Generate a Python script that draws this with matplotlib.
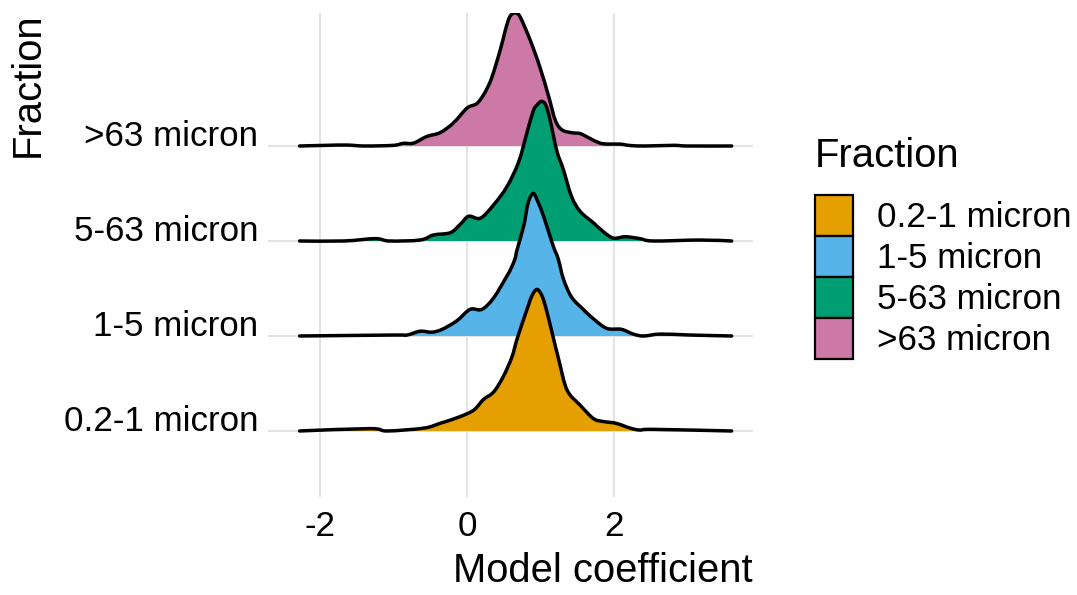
import matplotlib.pyplot as plt
from matplotlib.patches import Patch, PathPatch
from matplotlib.path import Path

plt.rcParams['font.family'] = ['Liberation Sans', 'DejaVu Sans']

# categories, bottom to top
fractions = ['0.2-1 micron', '1-5 micron', '5-63 micron', '>63 micron']
colors = ['#E69F00', '#56B4E9', '#009E73', '#CC79A7']

# ridge heights (1 = spacing between ridges)
x_02_1 = [-2.28, -1.32, -1.09, -0.59, -0.37, -0.10, 0.09, 0.22, 0.36, 0.49, 0.61, 0.68,
          0.81, 0.88, 0.95, 1.02, 1.08, 1.17, 1.25, 1.36, 1.54, 1.72, 1.85, 2.03,
          2.22, 2.35, 2.53, 3.60]
h_02_1 = [0, 0.025, 0, 0.03, 0.08, 0.15, 0.22, 0.33, 0.41, 0.57, 0.78, 0.97,
          1.27, 1.42, 1.49, 1.42, 1.27, 0.99, 0.74, 0.43, 0.27, 0.13, 0.10, 0.08,
          0.03, 0.01, 0.017, 0]

x_1_5 = [-2.28, -1.00, -0.82, -0.64, -0.48, -0.34, -0.14, 0.04, 0.20, 0.36, 0.54, 0.59,
         0.65, 0.68, 0.77, 0.83, 0.90, 0.97, 1.04, 1.17, 1.24, 1.31, 1.42, 1.58, 1.72,
         1.90, 2.10, 2.26, 2.40, 2.63, 3.03, 3.60]
h_1_5 = [0, 0.01, 0.01, 0.05, 0.04, 0.07, 0.16, 0.28, 0.28, 0.40, 0.63, 0.70,
         0.81, 0.91, 1.16, 1.40, 1.50, 1.40, 1.26, 0.95, 0.81, 0.60, 0.41, 0.28, 0.18,
         0.08, 0.07, 0.02, 0, 0.02, 0.01, 0]

x_5_63 = [-2.28, -1.68, -1.25, -1.06, -0.64, -0.46, -0.23, -0.10, 0.02, 0.18, 0.36, 0.54,
          0.70, 0.81, 0.90, 0.95, 1.01, 1.07, 1.13, 1.22, 1.31, 1.42, 1.54, 1.72, 1.85,
          1.99, 2.15, 2.35, 2.53, 3.17, 3.60]
h_5_63 = [0, 0, 0.025, 0, 0.01, 0.063, 0.087, 0.17, 0.26, 0.24, 0.38, 0.57,
          0.83, 1.13, 1.37, 1.43, 1.47, 1.43, 1.27, 0.95, 0.75, 0.47, 0.31, 0.19, 0.10,
          0.03, 0.045, 0.025, 0, 0.01, 0]

x_63 = [-2.28, -1.91, -1.64, -1.39, -1.00, -0.87, -0.73, -0.55, -0.37, -0.19, 0.00, 0.15,
        0.31, 0.45, 0.52, 0.58, 0.65, 0.72, 0.86, 0.99, 1.11, 1.20, 1.29, 1.42, 1.54,
        1.67, 1.81, 1.92, 2.08, 2.22, 2.43, 2.81, 3.00, 3.60]
h_63 = [0, 0.007, 0.01, 0, 0.007, 0.028, 0.03, 0.10, 0.14, 0.24, 0.40, 0.46,
        0.67, 1.01, 1.22, 1.36, 1.40, 1.36, 1.11, 0.83, 0.52, 0.27, 0.17, 0.14, 0.13,
        0.08, 0.03, 0.02, 0.02, 0.005, 0, 0.007, 0, 0]

ridges = [(x_02_1, h_02_1), (x_1_5, h_1_5), (x_5_63, h_5_63), (x_63, h_63)]


def curve(xs, ys):
    # catmull-rom through the points, drawn as bezier segments
    n = len(xs)
    verts = [(xs[0], ys[0])]
    codes = [Path.MOVETO]
    for i in range(n - 1):
        a = max(i - 1, 0)
        d = min(i + 2, n - 1)
        c1 = (xs[i] + (xs[i + 1] - xs[a]) / 6, ys[i] + (ys[i + 1] - ys[a]) / 6)
        c2 = (xs[i + 1] - (xs[d] - xs[i]) / 6, ys[i + 1] - (ys[d] - ys[i]) / 6)
        verts += [c1, c2, (xs[i + 1], ys[i + 1])]
        codes += [Path.CURVE4] * 3
    return verts, codes


fig = plt.figure(figsize=(10.77, 5.95), dpi=100)
ax = fig.add_axes([268 / 1077, 1 - 497 / 595, (753 - 268) / 1077, (497 - 13) / 595])

# draw top ridge first so lower ones overlap it
for i in range(len(fractions) - 1, -1, -1):
    xs, hs = ridges[i]
    base = i + 1
    top = [base + h for h in hs]
    z = 10 + (len(fractions) - i) * 2
    verts, codes = curve(xs, top)
    fill_path = Path(verts + [(xs[-1], base), (xs[0], base), (xs[0], top[0])],
                     codes + [Path.LINETO, Path.LINETO, Path.CLOSEPOLY])
    ax.add_patch(PathPatch(fill_path, facecolor=colors[i], lw=0, zorder=z))
    ax.add_patch(PathPatch(Path(verts, codes), fill=False, edgecolor='black',
                           lw=2.5, zorder=z + 1, capstyle='round'))

ax.set_xlim(-2.71, 3.89)
ax.set_ylim(0.305, 5.40)
ax.set_xticks([-2, 0, 2])
ax.set_xticklabels(['-2', '0', '2'])
ax.set_yticks([1, 2, 3, 4])
ax.set_yticklabels(fractions)
for lab in ax.get_yticklabels():
    lab.set_va('baseline')
ax.grid(True, color='#E3E3E3', lw=1.5)
ax.set_axisbelow(True)
for s in ax.spines.values():
    s.set_visible(False)
ax.tick_params(length=0, labelsize=25.2, colors='black')
ax.tick_params(axis='x', pad=9)
ax.tick_params(axis='y', pad=7)

fig.text(753 / 1077, 1 - 590 / 595, 'Model coefficient', fontsize=28.8,
         ha='right', va='bottom')
fig.text(28 / 1077, 1 - 12 / 595, 'Fraction', fontsize=28.8, rotation=90,
         ha='center', va='top')

# legend: title as its own text, keys stacked without gaps
fig.text(815 / 1077, 1 - 137 / 595, 'Fraction', fontsize=28.8, ha='left', va='top')
handles = [Patch(facecolor=c, edgecolor='black', lw=1.6) for c in colors]
fig.legend(handles, fractions, loc='upper left',
           bbox_to_anchor=(815 / 1077, 1 - 195 / 595), frameon=False,
           fontsize=25.2, handlelength=1.09, handleheight=1.43,
           labelspacing=0, handletextpad=0.69, borderpad=0, borderaxespad=0)

fig.savefig('out.png', dpi=100)
